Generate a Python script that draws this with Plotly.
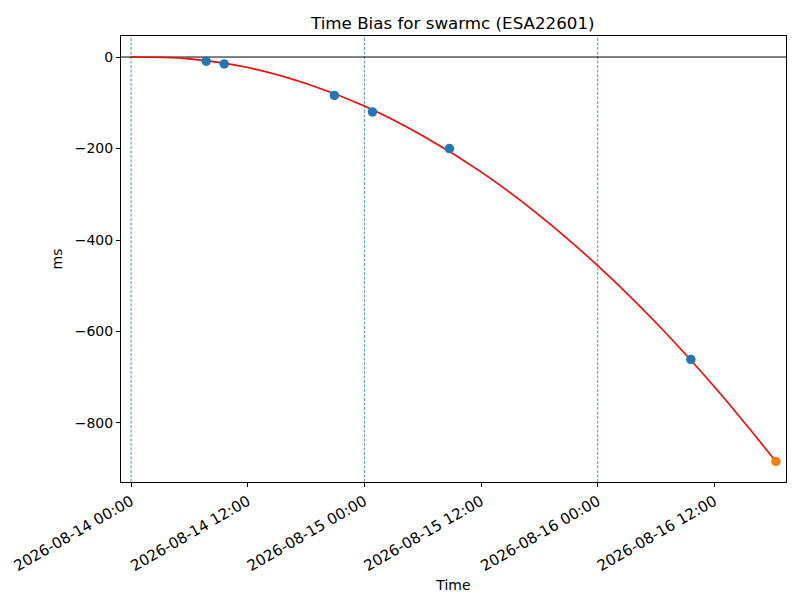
import plotly.graph_objects as go

# observed time bias points (ms)
obs_times = ["2026-08-14 07:44", "2026-08-14 09:35", "2026-08-14 20:55",
             "2026-08-15 00:50", "2026-08-15 08:45", "2026-08-16 09:35"]
obs_bias = [-9, -15, -84, -120, -200, -661]

# predicted point
pred_times = ["2026-08-16 18:20"]
pred_bias = [-884]

fit_times = ["2026-08-14 00:00", "2026-08-14 06:00", "2026-08-14 12:00", "2026-08-14 18:00",
             "2026-08-15 00:00", "2026-08-15 06:00", "2026-08-15 12:00", "2026-08-15 18:00",
             "2026-08-16 00:00", "2026-08-16 06:00", "2026-08-16 12:00", "2026-08-16 18:20"]
fit_bias = [0, -4, -23, -58, -107, -172, -251, -346, -456, -581, -721, -884]

day_lines = ["2026-08-14 00:00", "2026-08-15 00:00", "2026-08-16 00:00"]
tick_times = ["2026-08-14 00:00", "2026-08-14 12:00", "2026-08-15 00:00",
              "2026-08-15 12:00", "2026-08-16 00:00", "2026-08-16 12:00"]

font = dict(family="DejaVu Sans", size=14, color="black")

fig = go.Figure()

fig.add_trace(go.Scatter(x=fit_times, y=fit_bias, mode="lines", line_shape="spline",
                         line=dict(color="red", width=1.6), showlegend=False))
fig.add_trace(go.Scatter(x=obs_times, y=obs_bias, mode="markers",
                         marker=dict(color="#1f77b4", size=9.5), showlegend=False))
fig.add_trace(go.Scatter(x=pred_times, y=pred_bias, mode="markers",
                         marker=dict(color="#ff7f0e", size=9.5), showlegend=False))

for d in day_lines:
    fig.add_vline(x=d, line=dict(color="#1f77b4", width=0.8, dash="3px,1.5px"), layer="below")
fig.add_hline(y=0, line=dict(color="black", width=1), layer="below")

# page body adds ~8px offset, margins compensate for it
fig.update_layout(
    width=800, height=600,
    paper_bgcolor="white", plot_bgcolor="white",
    margin=dict(l=113, r=22, t=28, b=126),
    font=font,
    title=dict(text="Time Bias for swarmc (ESA22601)", x=0.556, xanchor="center",
               y=0.985, yanchor="top", font=dict(family="DejaVu Sans", size=16.7)),
)
fig.update_xaxes(
    title=dict(text="Time", standoff=6, font=dict(size=14)),
    automargin=False,
    range=["2026-08-13 22:58", "2026-08-16 19:22"],
    tickvals=tick_times, ticktext=tick_times, tickfont=dict(size=15),
    tickangle=-30, ticks="outside", ticklen=4, tickcolor="black",
    showline=True, linecolor="black", linewidth=1, mirror=True,
    showgrid=False, zeroline=False,
)
fig.update_yaxes(
    title=dict(text="ms", standoff=8, font=dict(size=14)),
    automargin=False,
    range=[-929, 46],
    tickvals=[0, -200, -400, -600, -800], tickfont=dict(size=14),
    ticks="outside", ticklen=4, tickcolor="black",
    showline=True, linecolor="black", linewidth=1, mirror=True,
    showgrid=False, zeroline=False,
)

fig.write_html("out.html")
